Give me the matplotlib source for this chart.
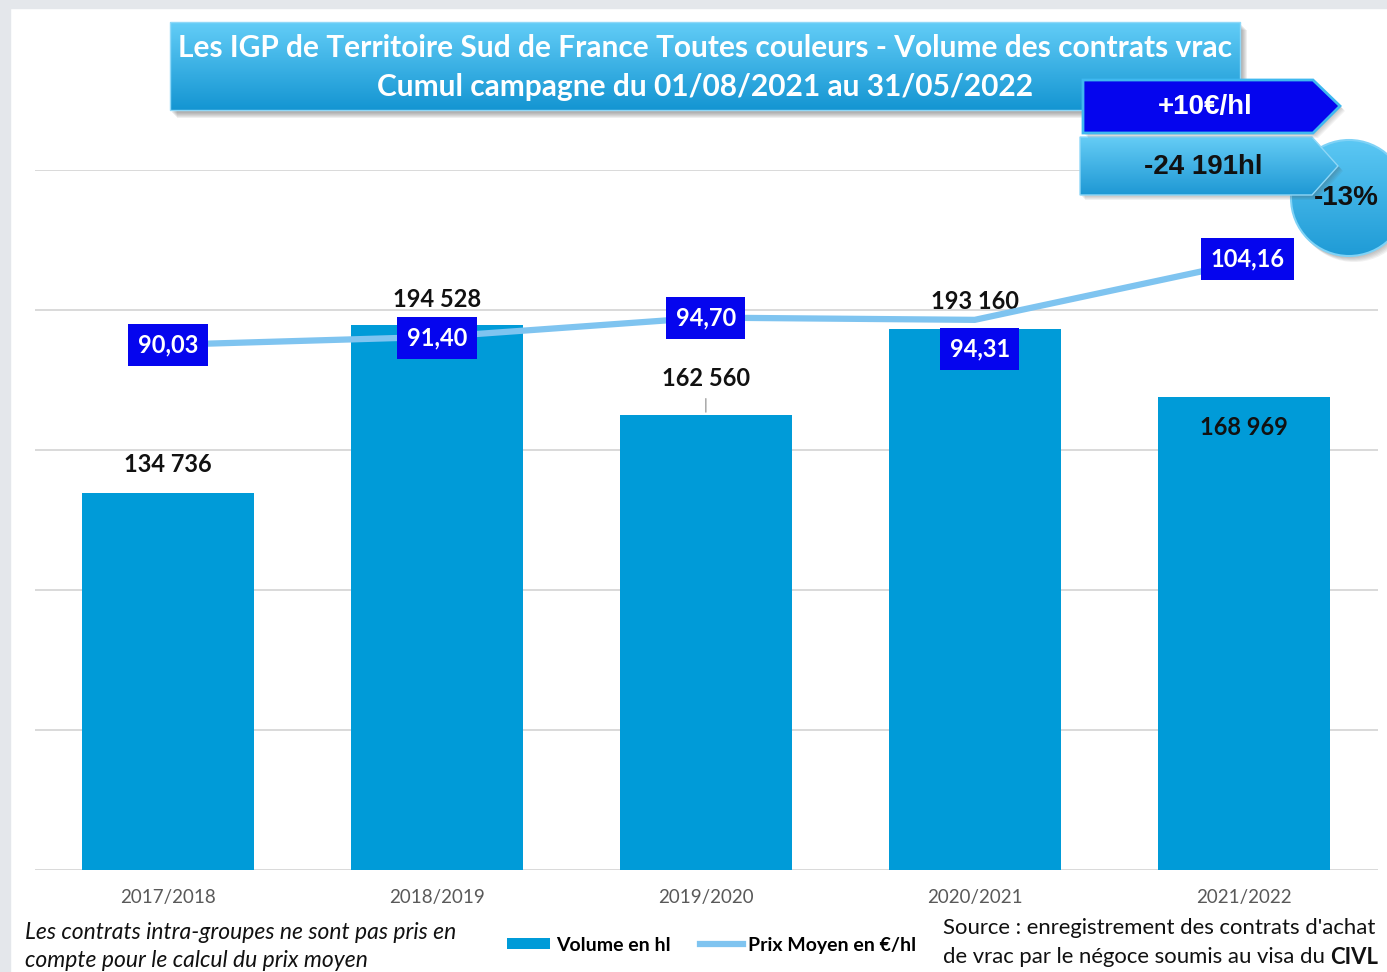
import matplotlib
matplotlib.use('Agg')
import matplotlib.pyplot as plt
import numpy as np
from matplotlib.patches import Rectangle, Polygon, Circle, Patch
from matplotlib.lines import Line2D
from matplotlib.colors import LinearSegmentedColormap

# Data
campagnes = ['2017/2018', '2018/2019', '2019/2020', '2020/2021', '2021/2022']
volumes = [134736, 194528, 162560, 193160, 168969]
prix = [90.03, 91.40, 94.70, 94.31, 104.16]

title_lines = ["Les IGP de Territoire Sud de France Toutes couleurs - Volume des contrats vrac",
               "Cumul campagne du 01/08/2021 au 31/05/2022"]
delta_prix = "+10€/hl"
delta_volume = "-24 191hl"
delta_pct = "-13%"
note_lines = ["Les contrats intra-groupes ne sont pas pris en",
              "compte pour le calcul du prix moyen"]
source_lines = ["Source : enregistrement des contrats d'achat",
                "de vrac par le négoce soumis au visa du "]
legend_labels = ['Volume en hl', 'Prix Moyen en €/hl']

# Styles
BAR = '#009bd8'
LINE = '#7fc4f0'
BOXBLUE = '#0505ee'
SANS = ['Lato', 'DejaVu Sans']
ARIAL = ['Liberation Sans', 'DejaVu Sans']

# label offsets in pixels (dx, dy), dy positive = up
vol_offsets = [(0, 28), (0, 26), (0, 36), (0, 28), (0, -31)]
prix_offsets = [(0, 0), (0, -1), (0, 0), (5, -29), (4, 3)]

W, H = 1387, 972
PX = 72 / 100  # pixels -> points

fig = plt.figure(figsize=(13.87, 9.72), dpi=100)
fig.patch.set_facecolor('white')

# background frame
bg = fig.add_axes([0, 0, 1, 1], zorder=0)
bg.set_xlim(0, W)
bg.set_ylim(H, 0)
bg.axis('off')
bg.add_patch(Rectangle((0, 0), W, 8, color='#e4e7eb'))
bg.add_patch(Rectangle((0, 0), 10, H, color='#e4e7eb'))

# Main chart
ax = fig.add_axes([35 / W, 1 - 870 / H, 1343 / W, 700 / H], zorder=2)
ax.patch.set_alpha(0)
x = np.arange(len(campagnes))
ax.bar(x, volumes, width=0.64, color=BAR, zorder=2)
ax.set_ylim(0, 250000)
ax.set_xlim(-0.495, 4.5)
ax.set_yticks(np.arange(0, 250001, 50000))
ax.yaxis.grid(True, color='#d9d9d9', lw=1.4, zorder=0)
ax.set_axisbelow(True)
for s in ax.spines.values():
    s.set_visible(False)
ax.set_xticks(x)
ax.set_xticklabels(campagnes, color='#595959', fontsize=13.5, family=SANS)

for i, v in enumerate(volumes):
    dx, dy = vol_offsets[i]
    lab = f"{v:,}".replace(',', ' ')
    arrow = dict(arrowstyle='-', color='#a0a0a0', lw=1, shrinkA=4, shrinkB=2) if i == 2 else None
    ax.annotate(lab, xy=(i, v), xytext=(dx * PX, dy * PX), textcoords='offset points',
                ha='center', va='center', fontsize=17, fontweight='bold', family=SANS,
                color='#111111', zorder=5, arrowprops=arrow)

# Price line on secondary axis
ax2 = ax.twinx()
ax2.set_ylim(0, 120)
ax2.axis('off')
ax2.plot(x, prix, color=LINE, lw=4.5, solid_capstyle='butt', zorder=3)
for i, p in enumerate(prix):
    dx, dy = prix_offsets[i]
    lab = f"{p:.2f}".replace('.', ',')
    ax2.annotate(lab, xy=(i, p), xytext=(dx * PX, dy * PX), textcoords='offset points',
                 ha='center', va='center', fontsize=17, fontweight='bold', family=SANS,
                 color='white', zorder=6,
                 bbox=dict(boxstyle='square,pad=0.4', facecolor=BOXBLUE, edgecolor='none'))

# twinx turns the left ticks back on
ax.tick_params(axis='y', left=False, right=False, labelleft=False)
ax.tick_params(axis='x', bottom=False, pad=10)

# Overlay for decorations
ov = fig.add_axes([0, 0, 1, 1], zorder=10)
ov.patch.set_alpha(0)
ov.axis('off')


def gradient_fill(patch, top, bottom, extent, z):
    patch.set_facecolor('none')
    patch.set_zorder(z + 0.1)
    ov.add_patch(patch)
    cmap = LinearSegmentedColormap.from_list('g', [top, bottom])
    grad = np.linspace(0, 1, 256)[:, None]
    im = ov.imshow(grad, cmap=cmap, extent=extent, aspect='auto', origin='upper',
                   zorder=z, interpolation='bilinear')
    im.set_clip_path(patch)


# title box with soft shadow
for k in range(6):
    ov.add_patch(Rectangle((170 + 2 + k, 22 + 3 + k), 1070, 88, color='#505050',
                           alpha=0.09, lw=0, zorder=1))
gradient_fill(Rectangle((170, 22), 1070, 88, edgecolor='#8fd8f8', lw=1),
              '#63cdf7', '#1495d2', (170, 1240, 110, 22), 2)
t_title = ov.text(705, 48, title_lines[0], ha='center', va='center', color='white',
                  fontsize=19, fontweight='bold', family=SANS, zorder=3)
t_title2 = ov.text(705, 87, title_lines[1], ha='center', va='center', color='white',
                   fontsize=19, fontweight='bold', family=SANS, zorder=3)

# circle -13%
for k in range(5):
    ov.add_patch(Circle((1350 + k, 200 + k), 58, color='#505050', alpha=0.08, lw=0, zorder=3))
gradient_fill(Circle((1349, 198), 58, edgecolor='#7fd2f6', lw=1.5),
              '#5cc8f4', '#1f9bd6', (1291, 1407, 256, 140), 4)
ov.text(1346, 198, delta_pct, ha='center', va='center', fontsize=20, fontweight='bold',
        family=ARIAL, color='#111111', zorder=9)

# -24 191hl arrow
arrow2 = [(1080, 137), (1312, 137), (1338, 166), (1312, 195), (1080, 195)]
for k in range(5):
    ov.add_patch(Polygon([(a + 1 + k, b + 1 + k) for a, b in arrow2], closed=True,
                         color='#505050', alpha=0.08, lw=0, zorder=5))
gradient_fill(Polygon(arrow2, closed=True, edgecolor='#8fd8f8', lw=1),
              '#66cdf6', '#1e98d4', (1080, 1338, 195, 137), 6)
ov.text(1203, 167, delta_volume, ha='center', va='center', fontsize=20, fontweight='bold',
        family=ARIAL, color='#111111', zorder=8)

# +10€/hl arrow
arrow1 = [(1083, 80), (1313, 80), (1340, 106), (1313, 133), (1083, 133)]
for k in range(5):
    ov.add_patch(Polygon([(a + 1 + k, b + 1 + k) for a, b in arrow1], closed=True,
                         color='#505050', alpha=0.08, lw=0, zorder=7))
ov.add_patch(Polygon(arrow1, closed=True, facecolor=BOXBLUE, edgecolor='#3fb8f0',
                     lw=2, zorder=8))
ov.text(1205, 107, delta_prix, ha='center', va='center', fontsize=20, fontweight='bold',
        family=ARIAL, color='white', zorder=9)

# footnote
t_note = ov.text(25, 932, note_lines[0], ha='left', va='center', fontsize=16, style='italic',
                 family=SANS, color='#111111')
t_note2 = ov.text(25, 960, note_lines[1], ha='left', va='center', fontsize=16, style='italic',
                  family=SANS, color='#111111')

# source
t_src1 = ov.text(943, 928, source_lines[0], ha='left', va='center', fontsize=16,
                 family=SANS, color='#111111')
t_src2 = ov.text(943, 957, source_lines[1], ha='left', va='center', fontsize=16,
                 family=SANS, color='#111111')
t_civl = ov.annotate('CIVL', xy=(1, 0.5), xycoords=t_src2, ha='left', va='center',
                     fontsize=16, fontweight='bold', family=SANS, color='#111111')

ov.set_xlim(0, W)
ov.set_ylim(H, 0)

# legend
handles = [Patch(facecolor=BAR, edgecolor='none'), Line2D([], [], color=LINE, lw=4.5)]
fig.legend(handles, legend_labels, loc='center', bbox_to_anchor=(712 / W, 1 - 945 / H),
           ncol=2, frameon=False, handlelength=2.2, handleheight=0.45,
           handletextpad=0.3, columnspacing=1.5,
           prop=dict(family=SANS, weight='bold', size=14))

# fit title, footnote and source widths to the reference
fig.canvas.draw()
r = fig.canvas.get_renderer()
s = t_title.get_fontsize() * 1052 / t_title.get_window_extent(r).width
t_title.set_fontsize(s)
t_title2.set_fontsize(s)
s = t_note.get_fontsize() * 430 / t_note.get_window_extent(r).width
t_note.set_fontsize(s)
t_note2.set_fontsize(s)
src_w = t_src2.get_window_extent(r).width + t_civl.get_window_extent(r).width
s = t_src1.get_fontsize() * 438 / max(src_w, t_src1.get_window_extent(r).width)
for t in (t_src1, t_src2, t_civl):
    t.set_fontsize(s)

fig.savefig('out.png', dpi=100)
